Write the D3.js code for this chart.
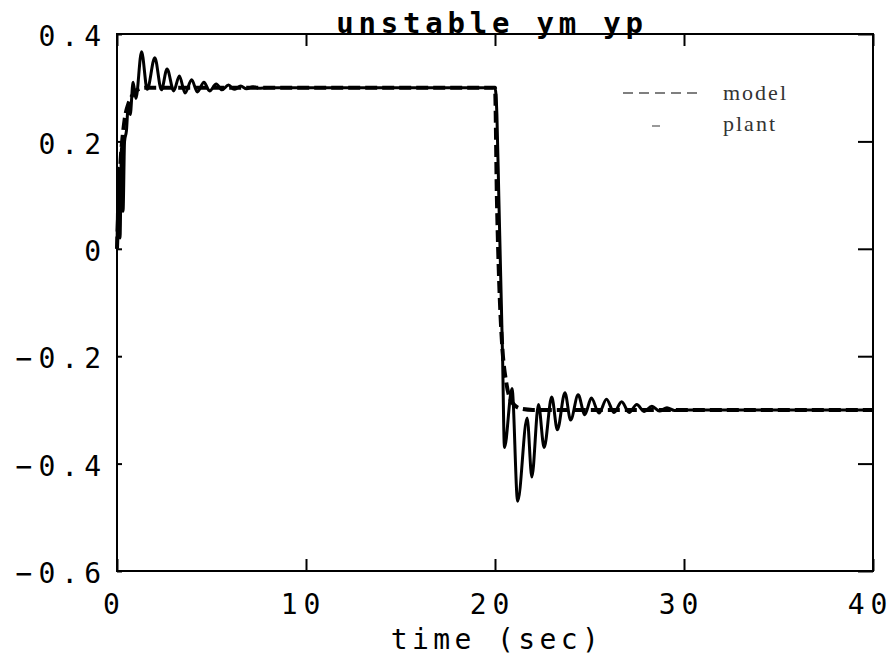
<!DOCTYPE html>
<html>
<head>
<meta charset="utf-8">
<script src="https://cdn.jsdelivr.net/npm/d3@7"></script>
<style>
  body { margin: 0; background: #fff; }
</style>
</head>
<body>
<div id="container"></div>
<script>
// time axis and output axis ticks
const xTicks = [0, 10, 20, 30, 40];
const yTicks = [0.4, 0.2, 0, -0.2, -0.4, -0.6];
const yTickLabels = ["0.4", "0.2", "0", "\u22120.2", "\u22120.4", "\u22120.6"];

// reference model response (dashed)
const modelT = [0, 0.1, 0.2, 0.3, 0.4, 0.6, 0.8, 1.0, 1.5, 20, 20.1, 20.2, 20.3, 20.4, 20.6, 20.8, 21.0, 21.4, 22, 40];
const modelY = [0, 0.1, 0.17, 0.21, 0.24, 0.27, 0.285, 0.295, 0.3, 0.3, 0.095, -0.04, -0.13, -0.19, -0.25, -0.28, -0.29, -0.298, -0.3, -0.3];

const plantT = [0, 0.08, 0.16, 0.24, 0.32, 0.4, 0.5, 0.6, 0.7, 0.85, 1.0, 1.3, 1.6, 2.0, 2.35, 2.65, 3.0, 3.3, 3.6, 3.95, 4.25, 4.6, 4.9, 5.25, 5.55, 5.9, 6.2, 6.55, 6.85, 7.2, 7.5, 8.0,
  20, 20.1, 20.2, 20.3, 20.4, 20.5, 20.9, 21.2, 21.7, 21.95, 22.3, 22.6, 23.0, 23.3, 23.7, 24.0, 24.4, 24.75, 25.1, 25.5, 25.9, 26.3, 26.7, 27.1, 27.5, 27.9, 28.3, 28.7, 29.1, 29.5, 30, 40];
const plantY = [0, 0.15, 0.02, 0.19, 0.07, 0.2, 0.22, 0.27, 0.25, 0.31, 0.28, 0.367, 0.297, 0.356, 0.296, 0.335, 0.294, 0.322, 0.29, 0.315, 0.292, 0.31, 0.294, 0.307, 0.296, 0.305, 0.297, 0.303, 0.298, 0.302, 0.299, 0.3,
  0.3, 0.25, 0.1, -0.05, -0.2, -0.37, -0.26, -0.47, -0.315, -0.425, -0.29, -0.37, -0.276, -0.337, -0.268, -0.319, -0.272, -0.309, -0.278, -0.306, -0.28, -0.305, -0.285, -0.305, -0.29, -0.303, -0.293, -0.302, -0.296, -0.301, -0.3, -0.3];

const legendNames = ["model", "plant"];

const width = 893;
const height = 665;
const plotLeft = 117, plotRight = 873, plotTop = 34, plotBottom = 571;
const mono = "'DejaVu Sans Mono', monospace";

const xScale = d3.scaleLinear().domain([0, 40]).range([plotLeft, plotRight]);
const yScale = d3.scaleLinear().domain([-0.6, 0.4]).range([plotBottom, plotTop]);

const svg = d3.select("#container")
    .append("svg")
    .attr("width", width)
    .attr("height", height);

//inward ticks on all four sides
svg.append("g")
    .attr("transform", `translate(0,${plotBottom})`)
    .call(d3.axisBottom(xScale).tickValues(xTicks).tickSizeInner(-12).tickSizeOuter(0).tickPadding(23).tickFormat(d3.format("d")))
    .call(g => g.select(".domain").remove())
    .call(g => g.selectAll("line").attr("stroke", "black").attr("stroke-width", 2))
    .call(g => g.selectAll("text")
        .attr("font-family", mono).attr("font-size", 28).attr("letter-spacing", 6)
        .attr("fill", "black").attr("dx", -3));

svg.append("g")
    .attr("transform", `translate(0,${plotTop})`)
    .call(d3.axisTop(xScale).tickValues(xTicks).tickSizeInner(-12).tickSizeOuter(0).tickFormat(""))
    .call(g => g.select(".domain").remove())
    .call(g => g.selectAll("line").attr("stroke", "black").attr("stroke-width", 2));

svg.append("g")
    .attr("transform", `translate(${plotLeft},0)`)
    .call(d3.axisLeft(yScale).tickValues(yTicks).tickSizeInner(-5).tickSizeOuter(0).tickPadding(10)
        .tickFormat((d, i) => yTickLabels[i]))
    .call(g => g.select(".domain").remove())
    .call(g => g.selectAll("line").attr("stroke", "black").attr("stroke-width", 2))
    .call(g => g.selectAll("text")
        .attr("font-family", mono).attr("font-size", 28).attr("letter-spacing", 6)
        .attr("fill", "black").attr("dy", "0.42em"));

svg.append("g")
    .attr("transform", `translate(${plotRight},0)`)
    .call(d3.axisRight(yScale).tickValues(yTicks).tickSizeInner(-15).tickSizeOuter(0).tickFormat(""))
    .call(g => g.select(".domain").remove())
    .call(g => g.selectAll("line").attr("stroke", "black").attr("stroke-width", 2));

//frame
svg.append("rect")
    .attr("x", plotLeft)
    .attr("y", plotTop)
    .attr("width", plotRight - plotLeft)
    .attr("height", plotBottom - plotTop)
    .attr("fill", "none")
    .attr("stroke", "black")
    .attr("stroke-width", 2);

const line = d3.line()
    .x(d => xScale(d[0]))
    .y(d => yScale(d[1]))
    .curve(d3.curveMonotoneX);

//plant curve
svg.append("path")
    .datum(plantT.map((t, i) => [t, plantY[i]]))
    .attr("d", line)
    .attr("fill", "none")
    .attr("stroke", "black")
    .attr("stroke-width", 3)
    .attr("stroke-linejoin", "round");

//model curve, dashed
svg.append("path")
    .datum(modelT.map((t, i) => [t, modelY[i]]))
    .attr("d", line)
    .attr("fill", "none")
    .attr("stroke", "black")
    .attr("stroke-width", 4)
    .attr("stroke-dasharray", "12,5");

//title sits right on the top border
svg.append("text")
    .attr("x", 492)
    .attr("y", 33)
    .attr("text-anchor", "middle")
    .attr("font-family", mono)
    .attr("font-size", 29)
    .attr("font-weight", "bold")
    .attr("letter-spacing", 4.8)
    .text("unstable ym yp");

svg.append("text")
    .attr("x", 497)
    .attr("y", 649)
    .attr("text-anchor", "middle")
    .attr("font-family", mono)
    .attr("font-size", 28)
    .attr("letter-spacing", 4.4)
    .text("time (sec)");

//legend
const legend = svg.append("g");
legend.append("line")
    .attr("x1", 623).attr("x2", 702)
    .attr("y1", 93).attr("y2", 93)
    .attr("stroke", "#555")
    .attr("stroke-width", 1.5)
    .attr("stroke-dasharray", "10,6");
legend.append("line")
    .attr("x1", 652).attr("x2", 660)
    .attr("y1", 126).attr("y2", 126)
    .attr("stroke", "#777")
    .attr("stroke-width", 1.5);
legendNames.forEach((name, i) => {
    legend.append("text")
        .attr("x", 723)
        .attr("y", 100 + i * 31)
        .attr("font-family", "'Liberation Serif', serif")
        .attr("font-size", 22)
        .attr("letter-spacing", 2)
        .attr("fill", "#333")
        .text(name);
});
</script>
</body>
</html>
